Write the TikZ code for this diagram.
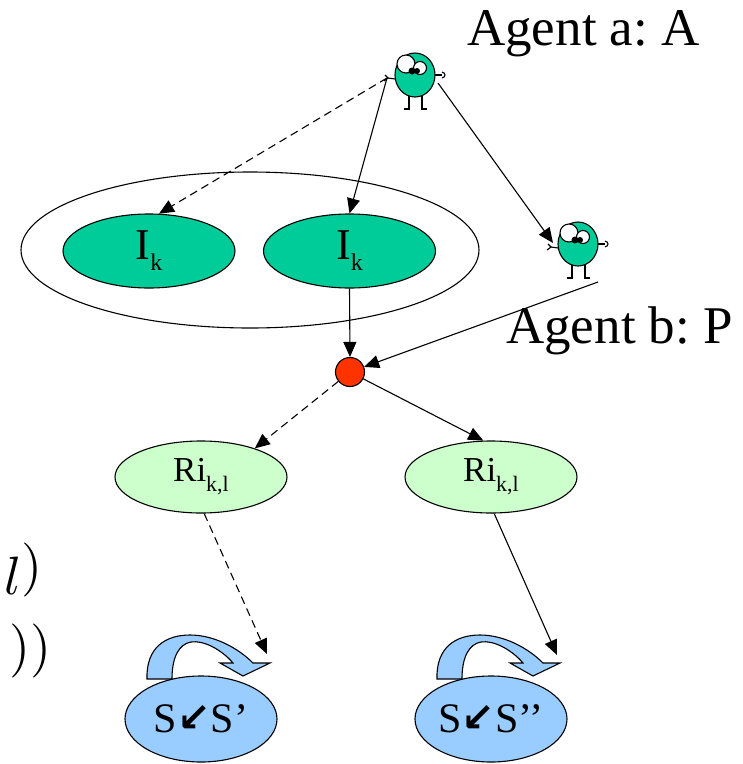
\documentclass[tikz,border=0pt]{standalone}
\usepackage{fontspec}
\setmainfont{Liberation Serif}
\newfontfamily\arrowfont{DejaVu Sans}
\usetikzlibrary{arrows.meta,shapes.geometric}
\frenchspacing

\definecolor{agentgreen}{RGB}{0,204,153}
\definecolor{rulegreen}{RGB}{204,255,204}
\definecolor{stateblue}{RGB}{153,204,255}
\definecolor{joinred}{RGB}{255,51,0}

\tikzset{
  link/.style={line width=1.1pt, -{Triangle[length=15pt,width=13pt]}},
  dlink/.style={link, dash pattern=on 8pt off 5pt},
  infoset/.style={ellipse, draw, line width=1.1pt, fill=agentgreen,
    minimum width=172pt, minimum height=74pt, inner sep=0pt},
  rulebox/.style={ellipse, draw, line width=1.1pt, fill=rulegreen,
    minimum width=172pt, minimum height=72pt, inner sep=0pt},
  statebox/.style={ellipse, draw, line width=1.1pt, fill=stateblue,
    minimum width=152pt, minimum height=86pt, inner sep=0pt},
  label/.style={anchor=base west, inner sep=0pt,
    font=\fontsize{53}{60}\selectfont},
  fragment/.style={anchor=base west, inner sep=0pt},
  % little agent figure with named hand coordinates
  agent/.pic={
    \draw[line width=1.1pt] (-20,4) -- (-27,3);
    \draw[line width=1.1pt] (-30,0) -- (-27,3) -- (-31,6);
    \draw[line width=1.1pt] (20,0) -- (27,0);
    \draw[line width=1.1pt] (27,-3) .. controls (31,-2) and (31,2) .. (27,3);
    \draw[line width=1.1pt] (-6,20) -- (-6,33);
    \draw[line width=1.1pt] (7,20) -- (7,33);
    \draw[line width=2.6pt] (-11,34) -- (-5,34);
    \draw[line width=2.6pt] (6,34) -- (12,34);
    \draw[line width=1.1pt, fill=agentgreen] (0,0) ellipse [x radius=20, y radius=22];
    \draw[line width=1.1pt, fill=white] (-9,-11) circle [radius=9];
    \draw[line width=1.1pt, fill=white] (5,-7) circle [radius=6.5];
    \fill (-3,-4) circle [radius=3.5];
    \fill (2,-4) circle [radius=3];
    \coordinate (-lh) at (-28,3);
    \coordinate (-rb) at (23,8);
    \coordinate (-la) at (-25,-1);
    \coordinate (-low) at (20,38);
  },
  % curved self-loop arrow above a state
  loop/.pic={
    \draw[line width=1.1pt, fill=stateblue]
      (-54,-40) .. controls (-55,-72) and (-35,-84) .. (-11,-84)
      .. controls (12,-84) and (36,-72) .. (52,-56)
      -- (69,-56) -- (42,-43) -- (19,-56) -- (32,-56)
      .. controls (20,-70) and (2,-79) .. (-10,-77)
      .. controls (-22,-75) and (-29,-62) .. (-29,-40) -- cycle;
  }
}

\newcommand{\swarr}{{\arrowfont\fontsize{40}{40}\selectfont\bfseries\raisebox{1pt}{↙}}}

\begin{document}
\begin{tikzpicture}[x=1pt, y=-1pt]
\useasboundingbox (0,0) rectangle (743,764);

% clipped formula fragments at the left margin
\node[fragment] (fragA) at (4,594) {\scalebox{5.4}{$l\raisebox{2pt}{$)$}$}};
\node[fragment] (fragB) at (9,664) {\scalebox{5.4}{$))$}};

% information sets
\node[ellipse, draw, line width=1.1pt, minimum width=458pt, minimum height=156pt,
  inner sep=0pt] (K) at (250,250) {};
\node[infoset] (IkL) at (149,251)
  {\fontsize{44}{44}\selectfont I\raisebox{-11pt}{\fontsize{24}{24}\selectfont k}};
\node[infoset] (IkR) at (349.5,251)
  {\fontsize{44}{44}\selectfont I\raisebox{-11pt}{\fontsize{24}{24}\selectfont k}};

% agents
\pic (agA) at (415,75) {agent};
\pic (agB) at (578,244) {agent};
\node[label] (labA) at (467,45) {Agent a: A};
\node[label] (labB) at (506,343) {Agent b: P};

% joint decision point
\node[circle, draw, line width=1.1pt, fill=joinred, minimum size=29pt,
  inner sep=0pt] (J) at (350,372) {};

% rule instances
\node[rulebox] (RiL) at (201,477)
  {\fontsize{35}{35}\selectfont Ri\raisebox{-10pt}{\fontsize{22}{22}\selectfont k,l}};
\node[rulebox] (RiR) at (491,477)
  {\fontsize{35}{35}\selectfont Ri\raisebox{-10pt}{\fontsize{22}{22}\selectfont k,l}};

% state transitions
\pic at (201,719) {loop};
\pic at (491,719) {loop};
\node[statebox] (SL) at (201,719) {\fontsize{42}{42}\selectfont S\swarr S’};
\node[statebox] (SR) at (491,719) {\fontsize{42}{42}\selectfont S\swarr S’’};
\coordinate (inL) at (267,654);
\coordinate (inR) at (557,655);

% connectors
\draw[dlink] (agA-lh) -- (IkL.75);
\draw[link] (agA-lh) -- (IkR.north);
\draw[link] (agA-rb) -- (agB-la);
\draw[link] (IkR.south) -- (J.north);
\draw[link] (agB-low) -- (J);
\draw[dlink] (J) -- (RiL.28);
\draw[link] (J) -- (RiR.102);
\draw[dlink] (RiL.-85) -- (inL);
\draw[link] (RiR.-85) -- (inR);
\end{tikzpicture}
\end{document}
